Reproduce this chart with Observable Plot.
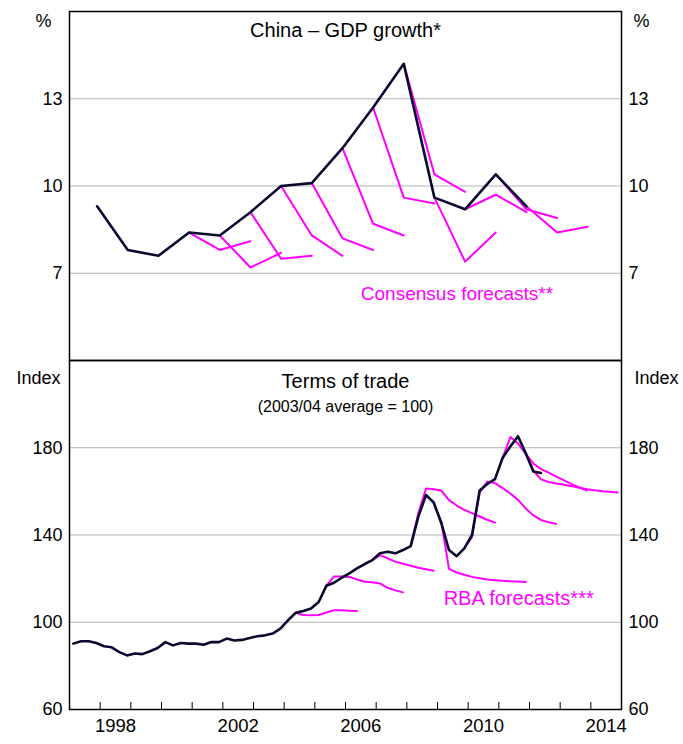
<!DOCTYPE html>
<html>
<head>
<meta charset="utf-8">
<script src="https://cdn.jsdelivr.net/npm/d3@7"></script>
<script src="https://cdn.jsdelivr.net/npm/@observablehq/plot@0.6"></script>
<style>
  html, body { margin: 0; padding: 0; background: #fff; }
  #chart { position: relative; width: 683px; height: 744px; font-family: "Liberation Sans", Arial, sans-serif; }
  #chart > div { position: absolute; left: 0; }
</style>
</head>
<body>
<div id="chart"><div id="top"></div><div id="bottom"></div></div>
<script>
// ---- China GDP growth (annual, %) ----
const gdpYears = [1997,1998,1999,2000,2001,2002,2003,2004,2005,2006,2007,2008,2009,2010,2011];
const gdpGrowth = [9.3,7.8,7.6,8.4,8.3,9.1,10.0,10.1,11.3,12.7,14.2,9.6,9.2,10.4,9.3];

// Consensus forecasts: start year, then values for start year, +1, +2
const consensusYears = [2000,2001,2002,2003,2004,2005,2006,2007,2008,2009,2010,2011];
const consensusPaths = [
  [8.4, 7.8, 8.1],
  [8.3, 7.2, 7.7],
  [9.1, 7.5, 7.6],
  [10.0, 8.3, 7.6],
  [10.1, 8.2, 7.8],
  [11.3, 8.7, 8.3],
  [12.7, 9.6, 9.4],
  [14.2, 10.4, 9.8],
  [9.6, 7.4, 8.4],
  [9.2, 9.7, 9.1],
  [10.4, 9.2, 8.9],
  [9.3, 8.4, 8.6]
];

// ---- Terms of trade (quarterly, from 1997 Q1) ----
const totFirstYear = 1997;
const termsOfTrade = [
  90.2, 91.3, 91.3, 90.5,
  89.0, 88.5, 86.3, 84.8,
  85.7, 85.4, 86.7, 88.2,
  90.9, 89.4, 90.5, 90.2,
  90.2, 89.7, 90.9, 90.9,
  92.5, 91.6, 91.9, 92.8,
  93.6, 94.0, 94.8, 97.1,
  100.9, 104.3, 105.2, 106.3,
  109.3, 116.7, 118.1, 120.4,
  122.4, 124.7, 126.7, 128.5,
  131.6, 132.3, 131.6, 133.1,
  134.9, 148.4, 158.4, 154.9,
  145.4, 133.1, 130.3, 133.9,
  140.0, 160.4, 163.4, 165.6,
  175.4, 180.6, 185.3, 177.6,
  169.1, 168.4
];

// RBA forecasts: starting quarter and quarterly path
const rbaStartQuarters = ["2004-Q2","2005-Q2","2006-Q4","2008-Q1","2008-Q4","2009-Q4","2011-Q1","2011-Q4"];
const rbaPaths = [
  [104.3, 103.3, 103.2, 103.3, 104.5, 105.5, 105.5, 105.3, 105.2],
  [116.7, 121.0, 121.0, 120.8, 119.6, 118.6, 118.3, 117.8, 115.8, 114.6, 113.7],
  [128.5, 130.8, 129.3, 127.8, 126.8, 125.9, 125.0, 124.3, 123.6],
  [134.9, 150.0, 161.3, 161.0, 160.4, 156.0, 153.5, 151.5, 150.0, 148.5, 147.0, 145.7],
  [154.9, 146.0, 124.5, 122.8, 121.8, 120.8, 120.2, 119.6, 119.3, 119.0, 118.8, 118.7, 118.5],
  [133.9, 139.0, 159.5, 164.5, 163.8, 161.5, 159.0, 156.1, 152.2, 149.0, 146.9, 145.8, 145.1],
  [175.4, 184.9, 182.0, 177.2, 172.8, 170.2, 168.6, 166.8, 165.0, 163.3, 161.8, 160.4],
  [177.6, 169.5, 165.5, 164.3, 163.6, 163.0, 162.4, 161.7, 161.0, 160.5, 160.1, 159.8, 159.5]
];

// ---- Axes ----
const xDomain = [1997, 2015];
const yTicksTop = [7, 10, 13];
const yDomainTop = [4, 16];
const yTicksBottom = [60, 100, 140, 180];
const yGridBottom = [100, 140, 180];
const yDomainBottom = [60, 220];
const yearTicks = d3.range(1998, 2015);
const yearLabels = [1998, 2002, 2006, 2010, 2014];

// ---- Build tables ----
const gdp = gdpYears.map((yr, i) => ({x: yr + 0.9, y: gdpGrowth[i]}));
const consensus = consensusYears.flatMap((yr, k) =>
  consensusPaths[k].map((v, j) => ({x: yr + j + 0.9, y: v, id: yr})));
const tot = termsOfTrade.map((v, i) => ({x: totFirstYear + i / 4 + 0.125, y: v}));
const rba = rbaStartQuarters.flatMap((s, k) => {
  const [yr, q] = s.split("-Q").map(Number);
  const t0 = yr + (q - 1) / 4;
  return rbaPaths[k].map((v, j) => ({x: t0 + j / 4 + 0.125, y: v, id: s}));
});

const FONT = "Liberation Sans, Arial, Helvetica, sans-serif";
const NAVY = "#0a0a30";
const MAGENTA = "#ff00ff";
const GRID = "#b4b4b4";
const svgStyle = {fontFamily: FONT, background: "transparent", overflow: "visible", color: "#000"};
const label = (txt, anchor, dx, dy, size, extra = {}) =>
  Plot.text([txt], {frameAnchor: anchor, dx, dy, fontSize: size, textAnchor: "middle", lineAnchor: "middle", ...extra});

const topPlot = Plot.plot({
  width: 683, height: 362,
  marginLeft: 69, marginRight: 62, marginTop: 11, marginBottom: 2,
  style: svgStyle,
  x: {domain: xDomain, axis: null},
  y: {domain: yDomainTop},
  marks: [
    Plot.gridY(yTicksTop, {stroke: GRID, strokeOpacity: 1, strokeWidth: 1}),
    Plot.axisY(yTicksTop, {anchor: "left", tickSize: 0, tickPadding: 7, fontSize: 18, label: null}),
    Plot.axisY(yTicksTop, {anchor: "right", tickSize: 0, tickPadding: 7, fontSize: 18, label: null}),
    Plot.line(consensus, {x: "x", y: "y", z: "id", stroke: MAGENTA, strokeWidth: 2}),
    Plot.line(gdp, {x: "x", y: "y", stroke: NAVY, strokeWidth: 2.6}),
    Plot.frame({stroke: "#000", strokeWidth: 1.5}),
    label("%", "top-left", -26, 10, 18),
    label("%", "top-right", 20, 10, 18),
    label("China – GDP growth*", "top", 0, 19, 20),
    Plot.text(["Consensus forecasts**"], {x: 2006.5, y: 6.3, textAnchor: "start", lineAnchor: "middle", fill: MAGENTA, fontSize: 19})
  ]
});

const bottomPlot = Plot.plot({
  width: 683, height: 386,
  marginLeft: 69, marginRight: 62, marginTop: 2, marginBottom: 35,
  style: svgStyle,
  x: {domain: xDomain},
  y: {domain: yDomainBottom},
  marks: [
    Plot.gridY(yGridBottom, {stroke: GRID, strokeOpacity: 1, strokeWidth: 1}),
    Plot.axisY(yTicksBottom, {anchor: "left", tickSize: 0, tickPadding: 7, fontSize: 18, label: null}),
    Plot.axisY(yTicksBottom, {anchor: "right", tickSize: 0, tickPadding: 7, fontSize: 18, label: null}),
    Plot.axisX(yearTicks, {anchor: "bottom", tickSize: -7, tickFormat: () => "", label: null, stroke: "#000"}),
    Plot.axisX(yearLabels.map(d => d + 0.5), {anchor: "bottom", tickSize: 0, tickPadding: 9, fontSize: 18.5, tickFormat: d => String(Math.floor(d)), label: null}),
    Plot.line(rba, {x: "x", y: "y", z: "id", stroke: MAGENTA, strokeWidth: 2}),
    Plot.line(tot, {x: "x", y: "y", stroke: NAVY, strokeWidth: 2.6}),
    Plot.frame({stroke: "#000", strokeWidth: 1.5}),
    label("Index", "top-left", -31, 18, 18),
    label("Index", "top-right", 35, 18, 18),
    label("Terms of trade", "top", 0, 21, 20),
    label("(2003/04 average = 100)", "top", 0, 46, 16),
    Plot.text(["RBA forecasts***"], {x: 2009.2, y: 111, textAnchor: "start", lineAnchor: "middle", fill: MAGENTA, fontSize: 20})
  ]
});

const topDiv = document.getElementById("top");
const bottomDiv = document.getElementById("bottom");
topDiv.style.top = "0px";
bottomDiv.style.top = "358px";
topDiv.appendChild(topPlot);
bottomDiv.appendChild(bottomPlot);
</script>
</body>
</html>
